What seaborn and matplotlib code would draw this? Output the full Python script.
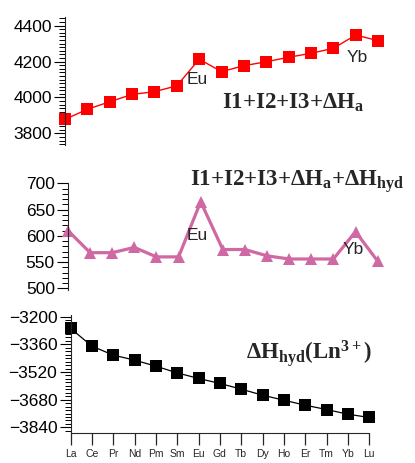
import matplotlib
matplotlib.use("Agg")
import matplotlib.pyplot as plt
from matplotlib.ticker import MultipleLocator
import numpy as np
import seaborn as sns

W, H = 415, 463

elements = ["La", "Ce", "Pr", "Nd", "Pm", "Sm", "Eu", "Gd", "Tb", "Dy",
            "Ho", "Er", "Tm", "Yb", "Lu"]

# I1 + I2 + I3 + dHa (kJ/mol)
ion_atom = [3878, 3934, 3976, 4017, 4032, 4065, 4213, 4144, 4177, 4199,
            4224, 4246, 4274, 4348, 4316]
# I1 + I2 + I3 + dHa + dHhyd
total = [610, 568, 568, 578, 560, 560, 665, 574, 574, 562,
         556, 556, 556, 608, 552]
# dHhyd(Ln3+)
hydration = [-3267, -3370, -3422, -3451, -3486, -3525, -3557, -3586, -3619, -3654,
             -3683, -3712, -3737, -3764, -3783]

sns.set_style("ticks")
plt.rcParams["font.family"] = ["Liberation Sans", "DejaVu Sans"]
plt.rcParams["mathtext.fontset"] = "custom"
plt.rcParams["mathtext.rm"] = "Liberation Serif:bold"
plt.rcParams["mathtext.it"] = "Liberation Serif:bold"
plt.rcParams["mathtext.default"] = "rm"


def px_axes(fig, left, top, right, bottom):
    return fig.add_axes([left / W, 1 - bottom / H, (right - left) / W, (bottom - top) / H])


def px_text(fig, x, y, s, **kw):
    fig.text(x / W, 1 - y / H, s, va="center", **kw)


def style_axis(ax, major, minor, show_x=False):
    sns.despine(ax=ax, top=True, right=True, bottom=not show_x)
    ax.yaxis.set_major_locator(MultipleLocator(major))
    ax.yaxis.set_minor_locator(MultipleLocator(minor))
    ax.tick_params(axis="y", which="major", direction="out", length=8, width=0.8,
                   labelsize=12.5, pad=1.5, colors="black", left=True)
    ax.tick_params(axis="y", which="minor", direction="out", length=4.5, width=0.7,
                   color="black", left=True)
    if show_x:
        ax.tick_params(axis="x", direction="out", length=8.5, width=0.9, labelsize=7.5, pad=3)
    else:
        ax.tick_params(axis="x", which="both", bottom=False, labelbottom=False)


x = np.arange(len(elements))
fig = plt.figure(figsize=(W / 100, H / 100), dpi=100)
serif = dict(family="Liberation Serif", fontweight="bold", fontsize=16.5)

# top panel
ax1 = px_axes(fig, 65, 16.7, 390, 145)
sns.lineplot(x=x, y=ion_atom, ax=ax1, color="#FF0000", linewidth=1.0, marker="s",
             markersize=8, markeredgewidth=0, clip_on=False)
ax1.set_xlim(0, 14.53)
ax1.set_ylim(3735, 4450)
style_axis(ax1, 200, 20)
px_text(fig, 187, 80, "Eu", fontsize=12.5)
px_text(fig, 347, 58, "Yb", fontsize=12.5)
px_text(fig, 222, 103, r"I1+I2+I3+$\Delta$H$_{\mathrm{a}}$", **serif)

# middle panel
ax2 = px_axes(fig, 68, 183.3, 390, 290)
sns.lineplot(x=x, y=total, ax=ax2, color="#CF68A3", linewidth=2.3, marker="^",
             markersize=8, markeredgewidth=0, clip_on=False)
ax2.set_xlim(0, 14.56)
ax2.set_ylim(497, 700)
style_axis(ax2, 50, 10)
px_text(fig, 190, 182, r"I1+I2+I3+$\Delta$H$_{\mathrm{a}}$+$\Delta$H$_{\mathrm{hyd}}$", **serif)
px_text(fig, 187, 235, "Eu", fontsize=12.5)
px_text(fig, 343, 250, "Yb", fontsize=12.5)

# bottom panel
ax3 = px_axes(fig, 70.5, 315, 369.3, 432.7)
sns.lineplot(x=x, y=hydration, ax=ax3, color="black", linewidth=0.9, marker="s",
             markersize=8.8, markeredgewidth=0, clip_on=False)
ax3.set_xlim(0, 14)
ax3.set_ylim(-3871, -3190)
style_axis(ax3, 160, 20, show_x=True)
ax3.set_xticks(x)
ax3.set_xticklabels(elements)
px_text(fig, 246, 353, r"$\Delta$H$_{\mathrm{hyd}}$(Ln$^{3+}$)", **serif)

fig.savefig("out.png", dpi=100)
